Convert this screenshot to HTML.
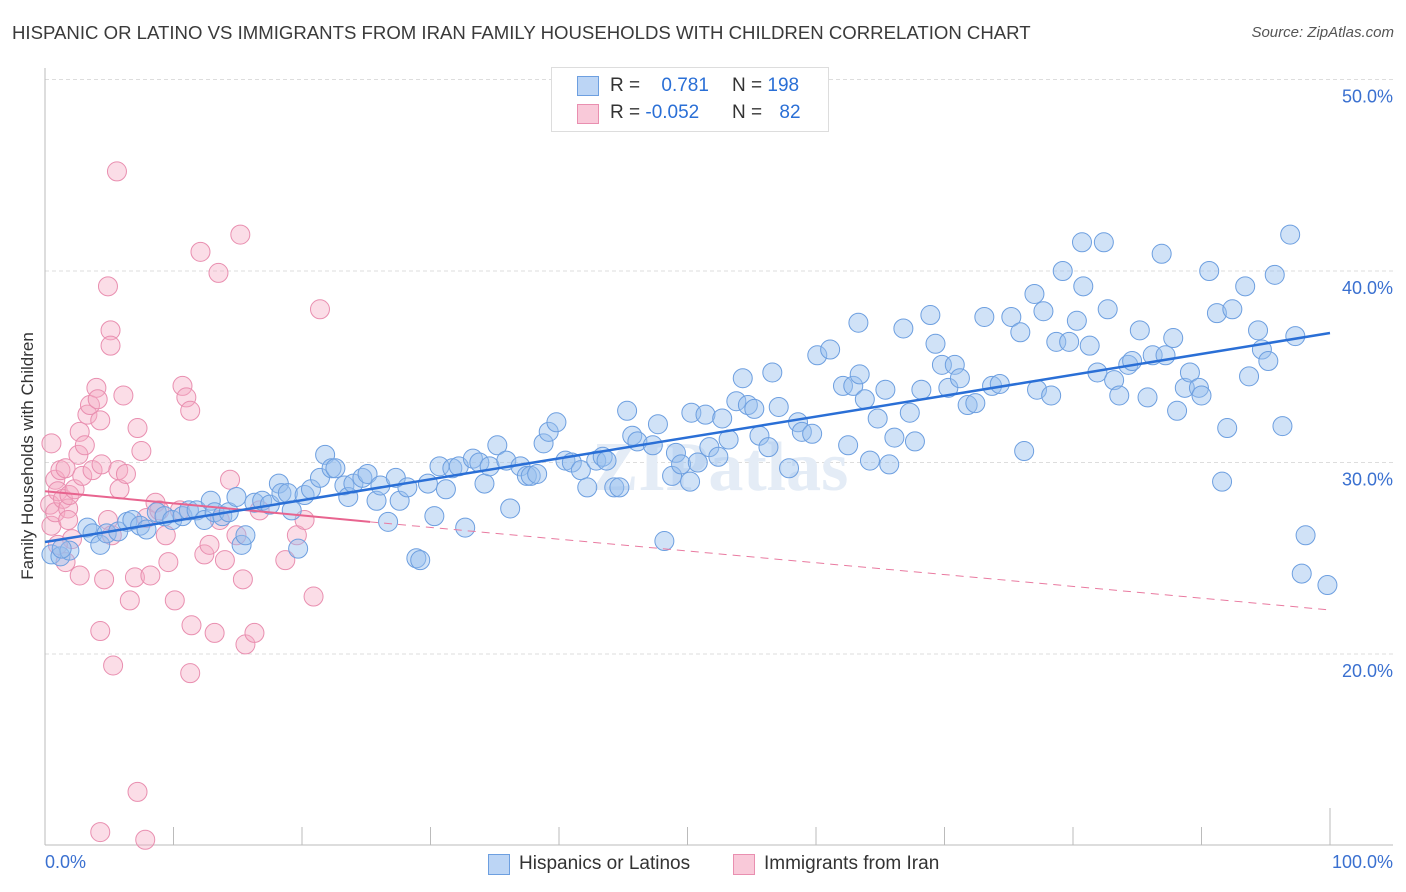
<!DOCTYPE html>
<html><head><meta charset="utf-8">
<style>
body{margin:0;background:#fff;font-family:"Liberation Sans",sans-serif;}
#wrap{position:relative;width:1406px;height:892px;overflow:hidden;}
.t{position:absolute;white-space:nowrap;}
</style></head>
<body>
<div id="wrap">
<div class="t" style="left:12px;top:22px;font-size:18.6px;color:#3a3a3a;">HISPANIC OR LATINO VS IMMIGRANTS FROM IRAN FAMILY HOUSEHOLDS WITH CHILDREN CORRELATION CHART</div>
<div class="t" style="right:12px;top:24px;font-size:15px;color:#555;font-style:italic;">Source: ZipAtlas.com</div>
<svg id="svg" width="1406" height="892" style="position:absolute;left:0;top:0"></svg>
</div>
<script>
const xTickVals=[0,10,20,30,40,50,60,70,80,90,100];
const yTickVals=[20,30,40,50];
const yTickLabels=["20.0%","30.0%","40.0%","50.0%"];
const blueX=[0.5,1.2,1.9,1.3,3.3,3.7,4.3,4.8,5.7,6.4,6.8,7.4,7.9,8.7,9.3,9.9,10.7,11.2,11.8,12.4,12.9,13.2,13.8,14.3,14.9,15.3,15.6,16.3,16.9,17.5,18.2,18.4,18.9,19.2,19.7,20.2,20.7,21.4,21.8,22.3,22.6,23.3,23.6,24.0,24.7,25.1,25.8,26.1,26.7,27.3,27.6,28.2,28.9,29.2,29.8,30.3,30.7,31.2,31.7,32.2,32.7,33.3,33.8,34.2,34.6,35.2,35.9,36.2,37.0,37.5,37.8,38.3,38.8,39.2,39.8,40.5,41.0,41.7,42.2,42.9,43.4,43.7,44.3,44.7,45.3,45.7,46.1,47.3,47.7,48.2,48.8,49.1,49.5,50.2,50.3,50.8,51.4,51.7,52.4,52.7,53.2,53.8,54.3,54.7,55.2,55.6,56.3,56.6,57.1,57.9,58.6,58.9,59.7,60.1,61.1,62.1,62.5,62.9,63.4,63.8,63.3,64.2,64.8,65.4,65.7,66.1,66.8,67.3,67.7,68.2,68.9,69.3,69.8,70.3,70.8,71.2,71.8,72.4,73.1,73.7,74.3,75.2,75.9,76.2,77.0,77.2,77.7,78.3,78.7,79.2,79.7,80.3,80.8,81.3,81.9,82.7,83.2,83.6,84.3,84.6,85.2,85.8,86.2,86.9,87.2,87.8,88.1,88.7,89.1,89.8,90.0,90.6,91.2,91.6,92.0,92.4,93.4,93.7,94.4,94.7,95.2,95.7,96.3,96.9,97.3,98.1,97.8,99.8,80.7,82.4];
const blueY=[25.2,25.1,25.4,25.5,26.6,26.3,25.7,26.3,26.4,26.9,27.0,26.7,26.5,27.4,27.2,27.0,27.2,27.5,27.5,27.0,28.0,27.4,27.2,27.4,28.2,25.7,26.2,27.9,28.0,27.8,28.9,28.4,28.4,27.5,25.5,28.3,28.6,29.2,30.4,29.7,29.7,28.8,28.2,28.9,29.2,29.4,28.0,28.8,26.9,29.2,28.0,28.7,25.0,24.9,28.9,27.2,29.8,28.6,29.7,29.8,26.6,30.2,30.0,28.9,29.8,30.9,30.1,27.6,29.8,29.3,29.3,29.4,31.0,31.6,32.1,30.1,30.0,29.6,28.7,30.1,30.3,30.1,28.7,28.7,32.7,31.4,31.1,30.9,32.0,25.9,29.3,30.5,29.9,29.0,32.6,30.0,32.5,30.8,30.3,32.3,31.2,33.2,34.4,33.0,32.8,31.4,30.8,34.7,32.9,29.7,32.1,31.6,31.5,35.6,35.9,34.0,30.9,34.0,34.6,33.3,37.3,30.1,32.3,33.8,29.9,31.3,37.0,32.6,31.1,33.8,37.7,36.2,35.1,33.9,35.1,34.4,33.0,33.1,37.6,34.0,34.1,37.6,36.8,30.6,38.8,33.8,37.9,33.5,36.3,40.0,36.3,37.4,39.2,36.1,34.7,38.0,34.3,33.5,35.1,35.3,36.9,33.4,35.6,40.9,35.6,36.5,32.7,33.9,34.7,33.9,33.5,40.0,37.8,29.0,31.8,38.0,39.2,34.5,36.9,35.9,35.3,39.8,31.9,41.9,36.6,26.2,24.2,23.6,41.5,41.5];
const pinkX=[0.5,0.8,0.4,0.5,1.0,0.8,1.2,1.4,1.6,1.8,1.9,2.1,1.8,2.3,2.6,2.7,2.9,3.1,3.3,3.5,3.7,4.0,4.1,4.3,4.4,4.6,4.9,5.1,5.1,5.2,5.7,5.8,6.1,6.3,6.6,7.0,7.2,7.5,7.9,8.2,8.6,8.9,9.4,9.6,10.1,10.5,10.7,11.0,11.3,11.4,12.1,12.4,12.8,13.2,13.5,13.6,14.0,14.4,14.9,15.2,15.4,15.6,16.3,16.7,18.7,19.6,20.2,20.9,21.4,4.3,5.3,11.3,7.2,4.3,7.8,5.6,4.9,1.0,1.6,2.7];
const pinkY=[31.0,29.1,27.8,26.7,28.5,27.4,29.6,28.1,29.7,27.6,28.3,26.0,27.0,28.6,30.4,31.6,29.3,30.9,32.5,33.0,29.6,33.9,33.3,32.2,29.9,23.9,27.0,36.9,36.1,26.2,29.6,28.6,33.5,29.4,22.8,24.0,31.8,30.6,27.1,24.1,27.9,27.5,26.2,24.8,22.8,27.5,34.0,33.4,32.7,21.5,41.0,25.2,25.7,21.1,39.9,27.0,24.9,29.1,26.2,41.9,23.9,20.5,21.1,27.5,24.9,26.2,27.0,23.0,38.0,21.2,19.4,19.0,12.8,10.7,10.3,45.2,39.2,25.7,24.8,24.1];
const blueTrend=[[0,25.85],[100,36.76]];
const pinkTrendSolid=[[0,28.5],[25.3,26.9]];
const pinkTrendDash=[[25.3,26.9],[100,22.3]];

const X=v=>45+v*12.85;
const Y=v=>654-(v-20)*19.15;
const svg=document.getElementById('svg');
const NS='http://www.w3.org/2000/svg';
function mk(tag,attrs,parent){const e=document.createElementNS(NS,tag);for(const k in attrs)e.setAttribute(k,attrs[k]);(parent||svg).appendChild(e);return e;}

yTickVals.forEach((v,i)=>{
  const g=mk('line',{x1:45,x2:1393,y1:Y(v),y2:Y(v),stroke:'#ddd','stroke-dasharray':'4,3','stroke-width':1});
  
  
  const t=mk('text',{x:1393,y:Y(v)+23,'text-anchor':'end','font-size':18,fill:'#3a70d0','font-family':'Liberation Sans, sans-serif'});
  t.textContent=yTickLabels[i];
  
  
});
const ax=mk('line',{x1:45,x2:45,y1:68,y2:845,stroke:'#bbb','stroke-width':1});


const bx=mk('line',{x1:45,x2:1393,y1:845,y2:845,stroke:'#bbb','stroke-width':1});


xTickVals.forEach(v=>{
  const t=mk('line',{x1:X(v),x2:X(v),y1:v==100?808:827,y2:845,stroke:'#bbb','stroke-width':1});
  
  
});
const wm=mk('text',{x:720,y:490,'text-anchor':'middle','font-size':70,fill:'#e4ecf6','font-family':'Liberation Serif, serif','font-weight':'bold'});
wm.textContent='ZIPatlas';



function dots(xs,ys,fill,stroke,name){
  xs.forEach((x,i)=>{
    const c=mk('circle',{cx:X(x),cy:Y(ys[i]),r:9.5,fill:fill,stroke:stroke,'stroke-width':1});
    
    
  });
}
dots(pinkX,pinkY,'rgba(245,170,196,0.4)','#e98fb0','iran-point');
dots(blueX,blueY,'rgba(150,190,238,0.45)','#6d9fe0','hispanic-point');

function line(p,stroke,w,dash,name){
  const l=mk('line',{x1:X(p[0][0]),y1:Y(p[0][1]),x2:X(p[1][0]),y2:Y(p[1][1]),stroke:stroke,'stroke-width':w});
  if(dash)l.setAttribute('stroke-dasharray',dash);
  
  
}
line(pinkTrendDash,'#e97aa0',1,'8,6','iran-trend-extension');
line(pinkTrendSolid,'#e8648f',2,null,'iran-trend-line');
line(blueTrend,'#2a6fd6',2.5,null,'hispanic-trend-line');
</script>
<div class="t" style="left:28px;top:456px;font-size:17px;color:#333;transform:translate(-50%,-50%) rotate(-90deg);">Family Households with Children</div>
<div class="t" style="left:45px;top:852px;font-size:18px;color:#3a70d0;">0.0%</div>
<div class="t" style="right:13px;top:852px;font-size:18px;color:#3a70d0;">100.0%</div>
<div style="position:absolute;left:551px;top:67px;width:276px;height:63px;border:1px solid #ddd;background:#fff;font-size:19px;">
  <div style="position:absolute;left:25px;top:8px;width:20px;height:18px;background:#bcd5f5;border:1px solid #6d9fe0;"></div>
  <div class="t" style="left:58px;top:7px;color:#333;">R = <span style="color:#2a6fd6;margin-left:16px;">0.781</span></div>
  <div class="t" style="left:180px;top:7px;color:#333;">N = <span style="color:#2a6fd6;">198</span></div>
  <div style="position:absolute;left:25px;top:36px;width:20px;height:18px;background:#f9c9d9;border:1px solid #e98fb0;"></div>
  <div class="t" style="left:58px;top:34px;color:#333;">R = <span style="color:#2a6fd6;">-0.052</span></div>
  <div class="t" style="left:180px;top:34px;color:#333;">N = <span style="color:#2a6fd6;margin-left:12px;">82</span></div>
</div>
<div style="position:absolute;left:488px;top:854px;font-size:19px;color:#333;">
  <div style="position:absolute;left:0;top:0;width:20px;height:19px;background:#bcd5f5;border:1px solid #6d9fe0;"></div>
  <div class="t" style="left:31px;top:-1px;">Hispanics or Latinos</div>
</div>
<div style="position:absolute;left:733px;top:854px;font-size:19px;color:#333;">
  <div style="position:absolute;left:0;top:0;width:20px;height:19px;background:#f9c9d9;border:1px solid #e98fb0;"></div>
  <div class="t" style="left:31px;top:-1px;">Immigrants from Iran</div>
</div>
</body></html>
